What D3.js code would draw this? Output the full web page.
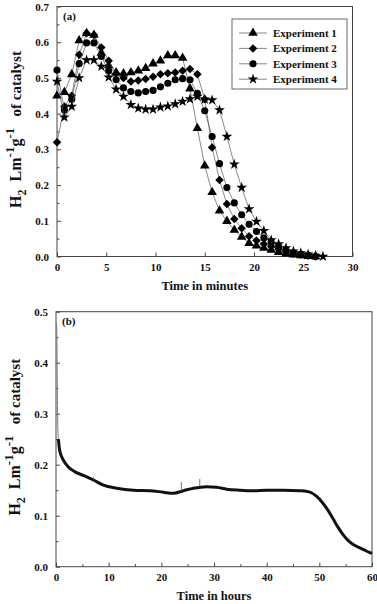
<!DOCTYPE html>
<html>
<head>
<meta charset="utf-8">
<script src="https://cdn.jsdelivr.net/npm/d3@7"></script>
<style>
  body { margin: 0; background: #fff; }
  svg { display: block; }
  text { font-family: "Liberation Serif", "Times New Roman", serif; font-weight: bold; fill: #111; }
</style>
</head>
<body>
<script>
// panel (a): hydrogen output per experiment, minutes
const minutes = [0, 0.75, 1.5, 2.25, 3, 3.75, 4.5, 5.25, 6, 6.75, 7.5, 8.25, 9, 9.75, 10.5, 11.25, 12,
  12.75, 13.5, 14.25, 15, 15.75, 16.5, 17.25, 18, 18.75, 19.5, 20.25, 21, 21.75, 22.5, 23.25, 24,
  24.75, 25.5, 26.25, 27];
const exp1 = [0.45, 0.46, 0.51, 0.605, 0.625, 0.62, 0.57, 0.535, 0.515, 0.512, 0.515, 0.52, 0.527, 0.54,
  0.548, 0.563, 0.563, 0.556, 0.47, 0.359, 0.254, 0.18, 0.128, 0.099, 0.074, 0.055, 0.037, 0.03, 0.024,
  0.018, 0.012, 0.008, 0.005, 0.003, 0.001, 0.0];
const exp2 = [0.32, 0.42, 0.45, 0.565, 0.625, 0.62, 0.585, 0.548, 0.512, 0.5, 0.49, 0.493, 0.497, 0.503,
  0.51, 0.513, 0.515, 0.52, 0.525, 0.51, 0.44, 0.305, 0.214, 0.147, 0.105, 0.079, 0.057, 0.045, 0.035,
  0.028, 0.02, 0.013, 0.008, 0.005, 0.002, 0.0];
const exp3 = [0.522, 0.41, 0.44, 0.54, 0.598, 0.598, 0.56, 0.52, 0.495, 0.472, 0.462, 0.458, 0.462, 0.465,
  0.475, 0.485, 0.495, 0.498, 0.495, 0.457, 0.408, 0.336, 0.26, 0.193, 0.15, 0.117, 0.09, 0.07, 0.052,
  0.04, 0.028, 0.018, 0.01, 0.006, 0.003, 0.0];
const exp4 = [0.49, 0.39, 0.42, 0.5, 0.55, 0.55, 0.532, 0.502, 0.468, 0.448, 0.425, 0.415, 0.412, 0.412,
  0.418, 0.421, 0.427, 0.434, 0.441, 0.448, 0.44, 0.438, 0.41, 0.336, 0.258, 0.193, 0.133, 0.098, 0.072,
  0.046, 0.035, 0.024, 0.015, 0.01, 0.006, 0.003, 0.0];
const seriesNames = ["Experiment 1", "Experiment 2", "Experiment 3", "Experiment 4"];

// panel (b): long run, hours
const hours = [0.05, 0.15, 0.3, 0.45, 0.7, 1.4, 2.3, 3.6, 5.2, 7.1, 9, 11.5, 14.7, 17.8, 20.4, 22.3,
  24.2, 26.1, 28.6, 30.5, 32.4, 34.9, 37.5, 40, 43.2, 46.3, 47.5, 48.5, 49.5, 50.5, 51.5, 52.5, 53.5,
  54.5, 55.5, 56.5, 57.5, 58.5, 59.5, 60];
const h2 = [0.48, 0.46, 0.3, 0.25, 0.228, 0.209, 0.196, 0.186, 0.179, 0.17, 0.16, 0.154, 0.15, 0.149,
  0.146, 0.144, 0.149, 0.154, 0.157, 0.156, 0.152, 0.15, 0.149, 0.15, 0.15, 0.149, 0.148, 0.145, 0.138,
  0.127, 0.113, 0.096, 0.078, 0.063, 0.051, 0.043, 0.038, 0.033, 0.028, 0.026];
const spikeHours = [7.1, 23.8, 27.3];
const spikeBase = [0.17, 0.148, 0.156];
const spikeTop = [0.176, 0.166, 0.172];

const svg = d3.select("body").append("svg")
  .attr("width", 377)
  .attr("height", 604);

// draws box, ticks and labels for one panel
function frame(g, x, y, xMajor, xMinor, yMajor, yMinor, xTitle, tag) {
  const w = x.range()[1], h = y.range()[0];
  g.append("rect").attr("width", w).attr("height", h)
    .attr("fill", "none").attr("stroke", "#444").attr("stroke-width", 1);

  g.append("g").attr("transform", `translate(0,${h})`)
    .call(d3.axisBottom(x).tickValues(xMajor).tickSize(-4).tickPadding(7).tickFormat(d3.format("d")))
    .call(a => a.select(".domain").remove());
  g.append("g").attr("transform", `translate(0,${h})`)
    .call(d3.axisBottom(x).tickValues(xMinor).tickSize(-2.5).tickFormat(""))
    .call(a => a.select(".domain").remove());
  g.append("g")
    .call(d3.axisLeft(y).tickValues(yMajor).tickSize(-4).tickPadding(8).tickFormat(d3.format(".1f")))
    .call(a => a.select(".domain").remove());
  g.append("g")
    .call(d3.axisLeft(y).tickValues(yMinor).tickSize(-2.5).tickFormat(""))
    .call(a => a.select(".domain").remove());

  g.selectAll(".tick line").attr("stroke", "#444");
  g.selectAll(".tick text").style("font-size", "11px")
    .style("font-family", "'Liberation Serif', serif").style("font-weight", "bold").attr("fill", "#111");

  g.append("text").attr("x", w / 2).attr("y", h + 33)
    .attr("text-anchor", "middle").style("font-size", "12.5px").text(xTitle);
  g.append("text").attr("x", 6).attr("y", 13).style("font-size", "11px").text(tag);

  // rotated y title with sub/superscripts
  const t = g.append("text")
    .attr("transform", `translate(${-36},${h / 2 - 2}) rotate(-90)`)
    .attr("text-anchor", "middle").style("font-size", "16px");
  t.append("tspan").text("H");
  t.append("tspan").attr("dy", 5).style("font-size", "12px").text("2");
  t.append("tspan").attr("dy", -5).text("\u00a0 Lm");
  t.append("tspan").attr("dy", -7).style("font-size", "13px").text("-1");
  t.append("tspan").attr("dy", 7).text("g");
  t.append("tspan").attr("dy", -7).style("font-size", "13px").text("-1");
  t.append("tspan").attr("dy", 7).style("font-size", "15px").text("\u00a0\u00a0 of catalyst");
}

// ---- panel (a)
const ga = svg.append("g").attr("transform", "translate(57,6.5)");
const xa = d3.scaleLinear().domain([0, 30]).range([0, 295.5]);
const ya = d3.scaleLinear().domain([0, 0.7]).range([250, 0]);

frame(ga, xa, ya, d3.range(0, 31, 5), [], d3.range(0, 0.71, 0.1),
  d3.range(0.05, 0.7, 0.1), "Time in minutes", "(a)");

const symbols = [d3.symbolTriangle, d3.symbolSquare, d3.symbolCircle, d3.symbolStar];
const symSizes = [40, 36, 40, 36];
const symRot = [0, 45, 0, 0];
const allExp = [exp1, exp2, exp3, exp4];

const line = d3.line().x(d => xa(d.t)).y(d => ya(d.v));

allExp.forEach((vals, k) => {
  const pts = vals.map((v, i) => ({ t: minutes[i], v: v }));
  ga.append("path").datum(pts)
    .attr("fill", "none").attr("stroke", "#555").attr("stroke-width", 0.7)
    .attr("d", line);
  ga.selectAll(null).data(pts).join("path")
    .attr("transform", d => `translate(${xa(d.t)},${ya(d.v)}) rotate(${symRot[k]})`)
    .attr("d", d3.symbol(symbols[k], symSizes[k]))
    .attr("fill", "#000");
});

// legend
const lg = ga.append("g").attr("transform", "translate(175,12.5)");
lg.append("rect").attr("width", 115).attr("height", 70)
  .attr("fill", "#fff").attr("stroke", "#444").attr("stroke-width", 0.8);
seriesNames.forEach((name, k) => {
  const yy = 14 + k * 15.4;
  lg.append("line").attr("x1", 7).attr("x2", 35).attr("y1", yy).attr("y2", yy)
    .attr("stroke", "#555").attr("stroke-width", 0.7);
  lg.append("path").attr("transform", `translate(21,${yy}) rotate(${symRot[k]})`)
    .attr("d", d3.symbol(symbols[k], symSizes[k])).attr("fill", "#000");
  lg.append("text").attr("x", 41).attr("y", yy + 4).style("font-size", "11px").text(name);
});

// ---- panel (b)
const gb = svg.append("g").attr("transform", "translate(56,311.7)");
const xb = d3.scaleLinear().domain([0, 60]).range([0, 316]);
const yb = d3.scaleLinear().domain([0, 0.5]).range([255, 0]);

frame(gb, xb, yb, d3.range(0, 61, 10), d3.range(5, 60, 10), d3.range(0, 0.51, 0.1),
  d3.range(0.05, 0.5, 0.1), "Time in hours", "(b)");

const lineB = d3.line().x(d => xb(d.t)).y(d => yb(d.v)).curve(d3.curveMonotoneX);
const ptsB = h2.map((v, i) => ({ t: hours[i], v: v }));
gb.append("path").datum(ptsB.slice(0, 4))
  .attr("fill", "none").attr("stroke", "#777").attr("stroke-width", 1)
  .attr("d", lineB);
gb.append("path").datum(ptsB.slice(3))
  .attr("fill", "none").attr("stroke", "#111").attr("stroke-width", 3)
  .attr("d", lineB);
gb.selectAll(null).data(spikeHours).join("line")
  .attr("x1", d => xb(d)).attr("x2", d => xb(d))
  .attr("y1", (d, i) => yb(spikeBase[i])).attr("y2", (d, i) => yb(spikeTop[i]))
  .attr("stroke", "#555").attr("stroke-width", 0.8);
</script>
</body>
</html>
